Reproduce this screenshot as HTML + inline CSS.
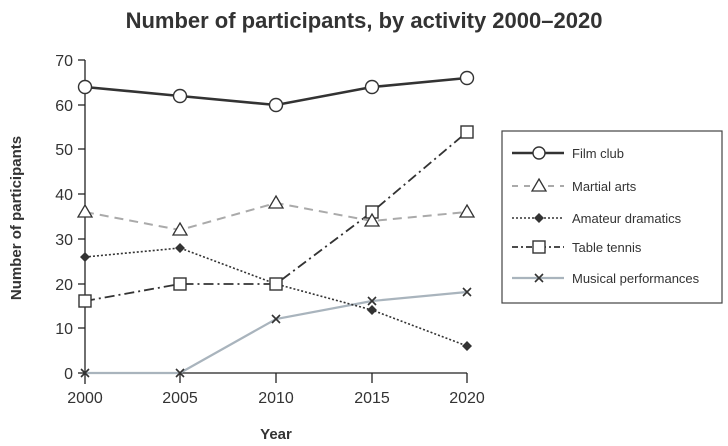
<!DOCTYPE html>
<html><head><style>body{margin:0;background:#fff}svg{display:block}text{font-family:"Liberation Sans",Arial,sans-serif;fill:#333}</style></head><body>
<svg width="728" height="446" viewBox="0 0 728 446">
<text x="364" y="28" text-anchor="middle" font-size="22" font-weight="bold" fill="#333">Number of participants, by activity 2000–2020</text>
<text transform="translate(21,218) rotate(-90)" text-anchor="middle" font-size="15" font-weight="bold">Number of participants</text>
<text x="276" y="439" text-anchor="middle" font-size="15" font-weight="bold">Year</text>
<g stroke="#222" stroke-width="1.3">
<line x1="85" y1="60" x2="85" y2="384"/>
<line x1="85" y1="373" x2="467" y2="373"/>
<line x1="78" y1="60" x2="85" y2="60"/><line x1="78" y1="105" x2="85" y2="105"/><line x1="78" y1="149" x2="85" y2="149"/><line x1="78" y1="194" x2="85" y2="194"/><line x1="78" y1="239" x2="85" y2="239"/><line x1="78" y1="284" x2="85" y2="284"/><line x1="78" y1="328" x2="85" y2="328"/><line x1="78" y1="373" x2="85" y2="373"/>
<line x1="180" y1="373" x2="180" y2="383"/><line x1="276" y1="373" x2="276" y2="383"/><line x1="372" y1="373" x2="372" y2="383"/><line x1="467" y1="373" x2="467" y2="383"/>
</g>
<g font-size="16" text-anchor="end">
<text x="73" y="66">70</text><text x="73" y="111">60</text><text x="73" y="155">50</text><text x="73" y="200">40</text><text x="73" y="245">30</text><text x="73" y="290">20</text><text x="73" y="334">10</text><text x="73" y="379">0</text>
</g>
<g font-size="16" text-anchor="middle">
<text x="85" y="403">2000</text><text x="180" y="403">2005</text><text x="276" y="403">2010</text><text x="372" y="403">2015</text><text x="467" y="403">2020</text>
</g>
<polyline points="85,373 180,373 276,319 372,301 467,292" fill="none" stroke="#a9b4bd" stroke-width="2.2"/>
<g stroke="#333" stroke-width="1.6"><path d="M81,369l8,8M89,369l-8,8M176,369l8,8M184,369l-8,8M272,315l8,8M280,315l-8,8M368,297l8,8M376,297l-8,8M463,288l8,8M471,288l-8,8"/></g>
<polyline points="85,301 180,284 276,284 372,212 467,132" fill="none" stroke="#333" stroke-width="1.8" stroke-dasharray="10,4,2,4"/>
<polyline points="85,257 180,248 276,284 372,310 467,346" fill="none" stroke="#333" stroke-width="1.6" stroke-dasharray="2,2"/>
<g fill="#333"><path d="M85,252l5,5-5,5-5-5z M180,243l5,5-5,5-5-5z M372,305l5,5-5,5-5-5z M467,341l5,5-5,5-5-5z"/></g>
<g fill="#fff" stroke="#333" stroke-width="1.4"><rect x="79" y="295" width="12" height="12"/><rect x="174" y="278" width="12" height="12"/><rect x="270" y="278" width="12" height="12"/><rect x="366" y="206" width="12" height="12"/><rect x="461" y="126" width="12" height="12"/></g>
<polyline points="85,212 180,230 276,203 372,221 467,212" fill="none" stroke="#aaa" stroke-width="2" stroke-dasharray="9,6"/>
<g fill="#fff" stroke="#333" stroke-width="1.3"><path d="M85,205l7,12h-14z M180,223l7,12h-14z M276,196l7,12h-14z M372,214l7,12h-14z M467,205l7,12h-14z"/></g>
<polyline points="85,87 180,96 276,105 372,87 467,78" fill="none" stroke="#333" stroke-width="2.6"/>
<g fill="#fff" stroke="#333" stroke-width="1.4"><circle cx="85" cy="87" r="6.5"/><circle cx="180" cy="96" r="6.5"/><circle cx="276" cy="105" r="6.5"/><circle cx="372" cy="87" r="6.5"/><circle cx="467" cy="78" r="6.5"/></g>
<rect x="502" y="131" width="220" height="172" fill="#fff" stroke="#444" stroke-width="1.2"/>
<g font-size="13">
<line x1="512" y1="153" x2="564" y2="153" stroke="#333" stroke-width="2.6"/><circle cx="539" cy="153" r="6" fill="#fff" stroke="#333" stroke-width="1.4"/><text x="572" y="158">Film club</text>
<line x1="512" y1="186" x2="564" y2="186" stroke="#aaa" stroke-width="2" stroke-dasharray="6,6"/><path d="M539,179l7,12h-14z" fill="#fff" stroke="#333" stroke-width="1.3"/><text x="572" y="191">Martial arts</text>
<line x1="512" y1="218" x2="564" y2="218" stroke="#333" stroke-width="1.6" stroke-dasharray="2,2"/><path d="M539,213l5,5-5,5-5-5z" fill="#333"/><text x="572" y="223">Amateur dramatics</text>
<line x1="512" y1="247" x2="564" y2="247" stroke="#333" stroke-width="1.8" stroke-dasharray="6,3,2,3"/><rect x="533" y="241" width="12" height="12" fill="#fff" stroke="#333" stroke-width="1.4"/><text x="572" y="252">Table tennis</text>
<line x1="512" y1="278" x2="564" y2="278" stroke="#a9b4bd" stroke-width="2.2"/><path d="M535,274l8,8M543,274l-8,8" stroke="#333" stroke-width="1.6"/><text x="572" y="283">Musical performances</text>
</g>
</svg>
</body></html>
